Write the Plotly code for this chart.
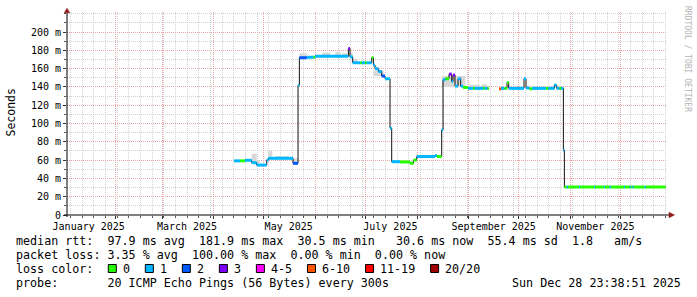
import plotly.graph_objects as go

# ---------------- data ----------------
x_start = "2025-01-02 23:38:51"
x_end = "2025-12-28 23:38:51"

# median RTT as steps: each step runs from step_start[i] to the next start
step_start = [
    "2025-04-13 04:48", "2025-04-16 19:12", "2025-04-19 19:12", "2025-04-23 19:12", "2025-04-26 19:12",
    "2025-05-02 19:12", "2025-05-03 19:12", "2025-05-18 14:24", "2025-05-21 14:24", "2025-05-22 09:36",
    "2025-05-26 19:12", "2025-05-30 19:12", "2025-05-31 19:12", "2025-06-20 19:12", "2025-06-21 19:12",
    "2025-06-23 09:36", "2025-06-27 19:12", "2025-06-28 19:12", "2025-06-30 19:12", "2025-07-01 19:12",
    "2025-07-04 19:12", "2025-07-05 19:12", "2025-07-06 19:12", "2025-07-08 19:12", "2025-07-10 19:12",
    "2025-07-12 19:12", "2025-07-15 19:12", "2025-07-16 19:12", "2025-07-21 19:12", "2025-07-27 19:12",
    "2025-07-29 19:12", "2025-07-31 19:12", "2025-08-11 19:12", "2025-08-12 19:12", "2025-08-15 19:12",
    "2025-08-16 14:24", "2025-08-18 00:00", "2025-08-20 04:48", "2025-08-21 19:12", "2025-08-22 14:24",
    "2025-08-23 19:12", "2025-08-25 14:24", "2025-08-27 04:48", "2025-08-28 14:24", "2025-08-31 14:24",
    "2025-09-03 14:24", "2025-09-04 14:24", "2025-09-09 14:24", "2025-09-10 14:24", "2025-09-12 04:48",
    "2025-09-13 04:48",
    "2025-09-19 04:48", "2025-09-20 09:36", "2025-09-22 09:36", "2025-09-24 00:00", "2025-09-25 00:00",
    "2025-10-04 04:48", "2025-10-05 09:36", "2025-10-07 09:36", "2025-10-09 00:00", "2025-10-17 09:36",
    "2025-10-18 19:12", "2025-10-22 09:36", "2025-10-23 19:12", "2025-10-25 09:36", "2025-10-26 09:36",
    "2025-10-27 19:12", "2025-10-28 09:36", "2025-10-29 19:12", "2025-10-30 14:24", "2025-11-06 04:48",
    "2025-11-06 19:12", "2025-11-15 04:48", "2025-11-15 19:12", "2025-11-21 04:48", "2025-11-21 19:12",
    "2025-11-24 14:24", "2025-11-25 04:48", "2025-12-03 04:48", "2025-12-03 19:12", "2025-12-06 14:24",
    "2025-12-07 04:48", "2025-12-08 04:48", "2025-12-08 19:12", "2025-12-15 14:24", "2025-12-16 04:48",
]
series_end = "2025-12-28 04:48"

step_rtt_ms = [
    59.2, 59.2, 59.8, 57.2, 54.6,
    60.0, 62.0, 56.5, 142.0, 172.0,
    172.5, 172.5, 173.5, 182.0, 173.0,
    166.5, 166.5, 166.5, 166.5, 166.5,
    172.0, 164.0, 160.0, 157.0, 152.0,
    149.0, 95.0, 58.3, 58.0, 56.5,
    60.0, 64.0, 65.0, 64.0, 93.0,
    148.0, 149.0, 154.0, 146.0, 153.0,
    141.0, 149.0, 141.0, 139.5, 138.5,
    138.5, 138.5, 138.5, 138.5, 138.5,
    None,
    138.0, 138.5, 138.5, 145.0, 138.5,
    149.0, 139.0, 138.0, 138.5, 138.5,
    138.5, 142.0, 138.5, 138.5, 138.5,
    71.0, 30.6, 30.6, 30.6, 30.6,
    30.6, 30.6, 30.6, 30.6, 30.6,
    30.6, 30.6, 30.6, 30.6, 30.6,
    30.6, 30.6, 30.6, 30.6, 30.6,
]

# loss bin index per step (0 -> "0", 1 -> "1", ... 7 -> "20/20")
step_loss = [
    1, 0, 1, 1, 1,
    1, 1, 2, 1, 2,
    1, 0, 1, 3, 1,
    1, 0, 1, 0, 1,
    0, 1, 1, 1, 2,
    1, 1, 1, 0, 0,
    0, 1, 1, 0, 1,
    1, 0, 3, 1, 3,
    1, 1, 1, 0, 1,
    0, 1, 0, 1, 0,
    None,
    5, 1, 0, 0, 1,
    1, 1, 0, 1, 0,
    1, 1, 1, 0, 1,
    1, 0, 1, 0, 1,
    0, 1, 0, 1, 0,
    1, 0, 1, 0, 1,
    0, 1, 0, 1, 0,
]

# smoke (spread of the pings around the median)
smoke_start = ["2025-04-23 19:12", "2025-04-26 19:12", "2025-05-03 19:12", "2025-05-08 00:00",
               "2025-05-18 14:24", "2025-05-22 09:36", "2025-06-05 00:00", "2025-06-13 00:00",
               "2025-06-17 00:00", "2025-06-20 19:12", "2025-06-23 09:36", "2025-07-06 00:00",
               "2025-08-16 00:00", "2025-09-01 00:00", "2025-09-09 00:00", "2025-10-10 00:00"]
smoke_end = ["2025-04-26 19:12", "2025-04-28 12:00", "2025-05-06 04:48", "2025-05-16 00:00",
             "2025-05-21 14:24", "2025-05-26 19:12", "2025-06-10 00:00", "2025-06-16 00:00",
             "2025-06-20 00:00", "2025-06-23 09:36", "2025-06-26 00:00", "2025-07-12 00:00",
             "2025-08-30 00:00", "2025-09-08 00:00", "2025-09-12 00:00", "2025-10-12 00:00"]
smoke_low = [57.2, 54.6, 62.0, 62.0, 56.5, 172.0, 173.5, 173.5, 173.5, 173.0, 166.5, 152.0,
             140.0, 138.5, 138.5, 138.5]
smoke_high = [67.0, 60.0, 70.0, 64.5, 62.0, 177.0, 177.5, 178.5, 177.0, 178.0, 171.0, 158.0,
              152.0, 142.5, 143.0, 141.0]

loss_labels = ["0", "1", "2", "3", "4-5", "6-10", "11-19", "20/20"]
loss_colors = ["#26ff00", "#00b8ff", "#0059ff", "#7e00ff", "#ff00ff", "#ff5500", "#ff0000", "#a10000"]

y_tick_vals = [0, 20, 40, 60, 80, 100, 120, 140, 160, 180, 200]
y_tick_text = ["0", "20 m", "40 m", "60 m", "80 m", "100 m", "120 m", "140 m", "160 m", "180 m", "200 m"]

x_label_dates = ["2025-01-16", "2025-03-16", "2025-05-16", "2025-07-16", "2025-09-16", "2025-11-16"]
x_label_text = ["January 2025", "March 2025", "May 2025", "July 2025", "September 2025", "November 2025"]
month_starts = ["2025-02-01", "2025-03-01", "2025-04-01", "2025-05-01", "2025-06-01", "2025-07-01",
                "2025-08-01", "2025-09-01", "2025-10-01", "2025-11-01", "2025-12-01"]

legend_lines = [
    "median rtt:  97.9 ms avg  181.9 ms max  30.5 ms min   30.6 ms now  55.4 ms sd  1.8   am/s",
    "packet loss: 3.35 % avg  100.00 % max  0.00 % min  0.00 % now",
    "loss color:",
    "probe:       20 ICMP Echo Pings (56 Bytes) every 300s",
]
stamp_text = "Sun Dec 28 23:38:51 2025"
watermark_text = "RRDTOOL / TOBI OETIKER"

# ---------------- layout helpers ----------------
W, H = 697, 297
PL, PR, PT, PB = 67, 667, 12, 215
MONO = "DejaVu Sans Mono"


def px(x):
    return (x - PL) / (PR - PL)


def py(y):
    return (PB - y) / (PB - PT)


fig = go.Figure()

# smoke polygons
sx, sy = [], []
for s, e, lo, hi in zip(smoke_start, smoke_end, smoke_low, smoke_high):
    sx += [s, e, e, s, s, None]
    sy += [lo, lo, hi, hi, lo, None]
fig.add_trace(go.Scatter(x=sx, y=sy, mode="lines", fill="toself", fillcolor="#d8d8d8",
                         line=dict(width=0, color="#d8d8d8"), hoverinfo="skip", showlegend=False))

# thin black median line (including vertical transitions)
bounds = step_start[1:] + [series_end]
mx, my = [], []
for s, e, v in zip(step_start, bounds, step_rtt_ms):
    if v is None:
        mx.append(None)
        my.append(None)
    else:
        mx += [s, e]
        my += [v, v]
fig.add_trace(go.Scatter(x=mx, y=my, mode="lines", line=dict(color="#111111", width=1),
                         connectgaps=False, hoverinfo="skip", showlegend=False))

# coloured median segments by packet loss
for k, col in enumerate(loss_colors):
    cx, cy = [], []
    for s, e, v, l in zip(step_start, bounds, step_rtt_ms, step_loss):
        if l == k and v is not None:
            cx += [s, e, None]
            cy += [v, v, None]
    if cx:
        fig.add_trace(go.Scatter(x=cx, y=cy, mode="lines", line=dict(color=col, width=3),
                                 connectgaps=False, hoverinfo="skip", showlegend=False))

# dummy trace to carry the label axis
fig.add_trace(go.Scatter(x=[x_start, x_end], y=[None, None], xaxis="x2", yaxis="y",
                         mode="lines", hoverinfo="skip", showlegend=False))

MAJOR_GRID = "#eaa6a6"
MINOR_GRID = "#d2d2d2"
DASH = "1px,1px"

fig.update_layout(
    width=W, height=H,
    margin=dict(l=PL, r=W - PR, t=PT, b=H - PB, pad=0),
    paper_bgcolor="white", plot_bgcolor="white",
    showlegend=False,
    font=dict(family=MONO, size=10, color="black"),
    xaxis=dict(
        type="date", range=[x_start, x_end],
        tickmode="array", tickvals=month_starts, showticklabels=False,
        showgrid=True, gridcolor=MAJOR_GRID, griddash=DASH, gridwidth=1,
        ticks="outside", ticklen=3, tickcolor="#333333",
        minor=dict(tickmode="linear", tick0="2025-01-05", dtick=7 * 86400000,
                   showgrid=True, gridcolor=MINOR_GRID, griddash=DASH,
                   ticks="outside", ticklen=2, tickcolor="#555555"),
        showline=False, zeroline=False,
    ),
    xaxis2=dict(
        type="date", range=[x_start, x_end], overlaying="x", anchor="y", side="bottom",
        tickmode="array", tickvals=x_label_dates, ticktext=x_label_text,
        showgrid=False, ticks="", showline=False, zeroline=False,
        ticklabelstandoff=4,
        tickfont=dict(family=MONO, size=10, color="black"),
    ),
    yaxis=dict(
        range=[0, 222], tickmode="array", tickvals=y_tick_vals, ticktext=y_tick_text,
        showgrid=True, gridcolor=MAJOR_GRID, griddash=DASH,
        ticks="outside", ticklen=3, tickcolor="#333333",
        minor=dict(tickmode="linear", tick0=0, dtick=10, showgrid=True,
                   gridcolor=MINOR_GRID, griddash=DASH, ticks="outside", ticklen=2,
                   tickcolor="#555555"),
        showline=False, zeroline=False,
        tickfont=dict(family=MONO, size=10, color="black"),
    ),
)

shapes = []
# axis lines
shapes.append(dict(type="line", xref="paper", yref="paper", x0=px(64), x1=px(669), y0=py(215), y1=py(215),
                   line=dict(color="black", width=1), layer="above"))
shapes.append(dict(type="line", xref="paper", yref="paper", x0=px(67), x1=px(67), y0=py(217), y1=py(12.5),
                   line=dict(color="black", width=1), layer="above"))
# arrow heads
ARROW = "#8e1b1b"
shapes.append(dict(type="path", xref="paper", yref="paper",
                   path=f"M {px(64.2)} {py(12.8)} L {px(69.8)} {py(12.8)} L {px(67)} {py(8.2)} Z",
                   fillcolor=ARROW, line=dict(color=ARROW, width=0.5), layer="above"))
shapes.append(dict(type="path", xref="paper", yref="paper",
                   path=f"M {px(669)} {py(212.2)} L {px(669)} {py(217.8)} L {px(674.5)} {py(215)} Z",
                   fillcolor=ARROW, line=dict(color=ARROW, width=0.5), layer="above"))

annotations = []
# y axis title
annotations.append(dict(text="Seconds", xref="paper", yref="paper", x=px(10.5), y=py(113),
                        xanchor="center", yanchor="middle", textangle=-90, showarrow=False,
                        font=dict(family=MONO, size=11.5, color="black")))
# watermark
annotations.append(dict(text=watermark_text, xref="paper", yref="paper", x=px(688), y=py(59),
                        xanchor="center", yanchor="middle", textangle=90, showarrow=False,
                        font=dict(family=MONO, size=8, color="#b4b4b4")))

LEG_SIZE = 11.7
ADV = 7.02
line_y = [241, 255, 268.5, 282.5]
for txt, ly in zip(legend_lines, line_y):
    annotations.append(dict(text=txt.replace(" ", "\u00a0"), xref="paper", yref="paper",
                            x=px(15.5), y=py(ly), xanchor="left", yanchor="middle",
                            showarrow=False, borderpad=0, borderwidth=0,
                            font=dict(family=MONO, size=LEG_SIZE, color="black")))
annotations.append(dict(text=stamp_text.replace(" ", "\u00a0"), xref="paper", yref="paper",
                        x=px(681), y=py(line_y[3]), xanchor="right", yanchor="middle",
                        showarrow=False, borderpad=0, borderwidth=0,
                        font=dict(family=MONO, size=LEG_SIZE, color="black")))

# loss colour swatches
bx = 108.3
for lab, col in zip(loss_labels, loss_colors):
    shapes.append(dict(type="rect", xref="paper", yref="paper",
                       x0=px(bx), x1=px(bx + 8), y0=py(line_y[2] - 4), y1=py(line_y[2] + 4),
                       fillcolor=col, line=dict(color="black", width=1), layer="above"))
    tx = bx + 14.7
    annotations.append(dict(text=lab, xref="paper", yref="paper", x=px(tx - 0.5), y=py(line_y[2]),
                            xanchor="left", yanchor="middle", showarrow=False, borderpad=0,
                            borderwidth=0, font=dict(family=MONO, size=LEG_SIZE, color="black")))
    bx = tx + len(lab) * ADV + 15.3

fig.update_layout(shapes=shapes, annotations=annotations)
fig.write_html("out.html")
